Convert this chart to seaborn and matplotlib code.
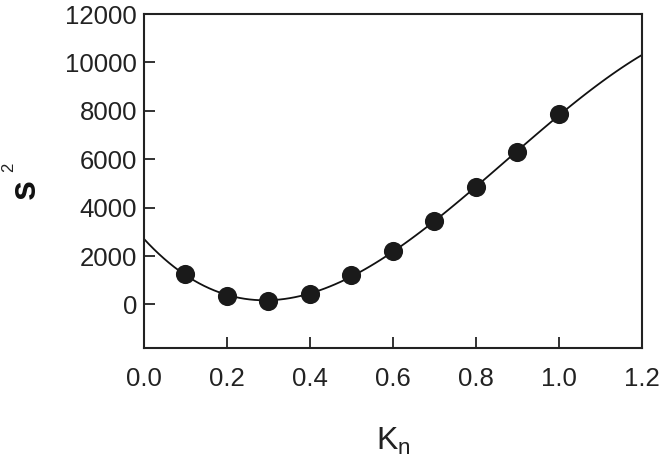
import numpy as np
import pandas as pd
import matplotlib
matplotlib.use("Agg")
import matplotlib.pyplot as plt
import seaborn as sns

kn = [0.1, 0.2, 0.3, 0.4, 0.5, 0.6, 0.7, 0.8, 0.9, 1.0]
s2 = [1250, 350, 150, 450, 1200, 2200, 3450, 4850, 6300, 7850]
xticks = [0.0, 0.2, 0.4, 0.6, 0.8, 1.0, 1.2]
yticks = [0, 2000, 4000, 6000, 8000, 10000, 12000]

sns.set_style("ticks")
plt.rcParams['font.family'] = ['Liberation Sans', 'DejaVu Sans']
plt.rcParams['mathtext.fontset'] = 'custom'
plt.rcParams['mathtext.rm'] = 'Liberation Sans'
plt.rcParams['mathtext.bf'] = 'Liberation Sans:bold'
plt.rcParams['mathtext.it'] = 'Liberation Sans'

df = pd.DataFrame({"Kn": kn, "s2": s2})

fig = plt.figure(figsize=(6.66, 4.69), dpi=100)
ax = fig.add_axes([0.216, 0.258, 0.748, 0.712])
ax.set_xlim(0, 1.2)
ax.set_ylim(-1800, 12000)

sns.regplot(data=df, x="Kn", y="s2", order=3, ci=None, truncate=False, ax=ax,
            scatter=False, line_kws=dict(color="#111111", lw=1.3))
sns.scatterplot(data=df, x="Kn", y="s2", ax=ax, s=190, color="#1a1a1a",
                edgecolor="#1a1a1a", linewidth=0, zorder=5)

ax.set_xlim(0, 1.2)
ax.set_ylim(-1800, 12000)
ax.set_xticks(xticks)
ax.set_xticklabels([f"{t:.1f}" for t in xticks])
ax.set_yticks(yticks)
ax.set_yticklabels([str(t) for t in yticks])
ax.tick_params(direction="in", length=8, width=1.3, labelsize=18.5, colors="#222222")
ax.tick_params(axis="x", pad=14)
ax.tick_params(axis="y", pad=5)
for sp in ax.spines.values():
    sp.set_visible(True)
    sp.set_linewidth(1.5)
    sp.set_color("#222222")

ax.set_xlabel(r"K$_\mathregular{n}$", fontsize=23, color="#222222", labelpad=25)
ax.set_ylabel("")
fig.text(0.0375, 0.597, "s", fontsize=26, fontweight="bold", rotation=90,
         ha="center", va="center", color="#111111")
fig.text(0.013, 0.644, "2", fontsize=12, rotation=90,
         ha="center", va="center", color="#222222")

fig.savefig("out.png", dpi=100)
